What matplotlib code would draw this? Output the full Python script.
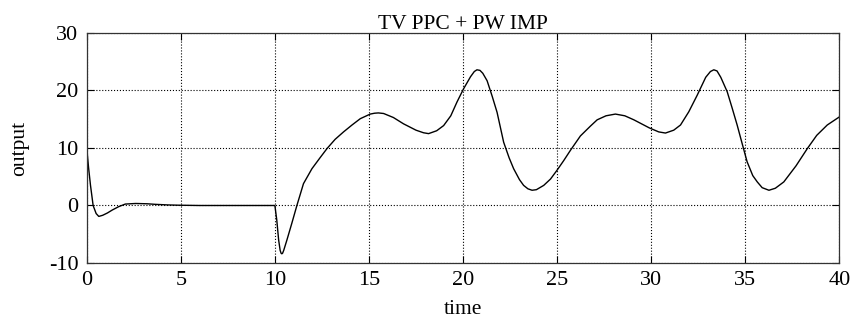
import matplotlib
matplotlib.use("Agg")
import matplotlib.pyplot as plt

plt.rcParams['font.family'] = ['Liberation Serif', 'DejaVu Serif']
plt.rcParams['axes.unicode_minus'] = False

# values
t = [0, 0.1, 0.2, 0.34, 0.5, 0.64, 0.85, 1.1, 1.35, 1.7, 2.05, 2.6, 3.2, 3.65,
     4.3, 4.9, 6, 8, 10.0,
     10.1, 10.2, 10.28, 10.33, 10.37, 10.41, 10.47, 10.64, 10.9, 11.17, 11.52,
     11.97, 12.4, 12.77, 13.2, 13.65, 14.1, 14.54, 15.07, 15.3, 15.5, 15.78,
     16.3, 16.84, 17.5, 17.9, 18.17, 18.6, 18.97, 19.35, 19.68, 20.03, 20.4,
     20.6, 20.74, 20.9, 21.05, 21.28, 21.55, 21.81, 22.16, 22.45, 22.69, 23.0,
     23.22, 23.45, 23.67, 23.9, 24.29, 24.65, 24.99, 25.35, 25.71, 26.24, 26.77,
     27.13, 27.6, 28.1, 28.6, 29.08, 29.9, 30.4, 30.76, 31.2, 31.56, 32.0, 32.45,
     32.9, 33.15, 33.33, 33.5, 33.7, 34.04, 34.3, 34.57, 34.85, 35.1, 35.4,
     35.64, 35.9, 36.26, 36.6, 37.05, 37.7, 38.3, 38.8, 39.36, 40]
y = [10, 6.5, 3.5, 0, -1.4, -1.9, -1.7, -1.3, -0.8, -0.2, 0.25, 0.35, 0.3, 0.2,
     0.1, 0.05, 0, 0, 0,
     -2.5, -6.0, -7.8, -8.3, -8.4, -8.3, -7.8, -6.0, -3.1, 0, 3.8,
     6.4, 8.3, 9.9, 11.5, 12.8, 14.0, 15.1, 15.9, 16.05, 16.1, 16.0,
     15.3, 14.2, 13.1, 12.65, 12.5, 13.0, 13.9, 15.6, 18.0, 20.3, 22.4,
     23.3, 23.6, 23.5, 23.0, 21.7, 19.0, 16.2, 11.0, 8.3, 6.4, 4.5,
     3.5, 2.9, 2.65, 2.75, 3.5, 4.6, 6.1, 7.8, 9.6, 12.1, 13.8,
     14.9, 15.6, 15.9, 15.6, 14.9, 13.5, 12.8, 12.6, 13.1, 14.0, 16.3, 19.2,
     22.3, 23.3, 23.6, 23.4, 22.3, 19.8, 17.0, 14.0, 10.6, 7.6, 5.2,
     4.1, 3.1, 2.65, 3.0, 4.1, 6.9, 9.9, 12.2, 14.0, 15.4]

xticks = [0, 5, 10, 15, 20, 25, 30, 35, 40]
yticks = [-10, 0, 10, 20, 30]

fig = plt.figure(figsize=(8.52, 3.21), dpi=100)
ax = fig.add_axes([0.1018, 0.1807, 0.8833, 0.7165])
ax.plot(t, y, color='black', linewidth=1.0)

ax.set_xlim(0, 40)
ax.set_ylim(-10, 30)
ax.set_xticks(xticks)
ax.set_yticks(yticks)
ax.grid(True, linestyle=':', color='black', linewidth=0.8)
ax.tick_params(direction='in', length=5, top=True, right=True,
               labelsize=16, pad=6)
for s in ax.spines.values():
    s.set_linewidth(0.9)
    s.set_color('#333333')

ax.set_title('TV PPC + PW IMP', fontsize=15.5, pad=3)
ax.set_xlabel('time', fontsize=15.5, labelpad=7)
ax.set_ylabel('output', fontsize=15.5, labelpad=14)

fig.savefig('out.png', dpi=100)
